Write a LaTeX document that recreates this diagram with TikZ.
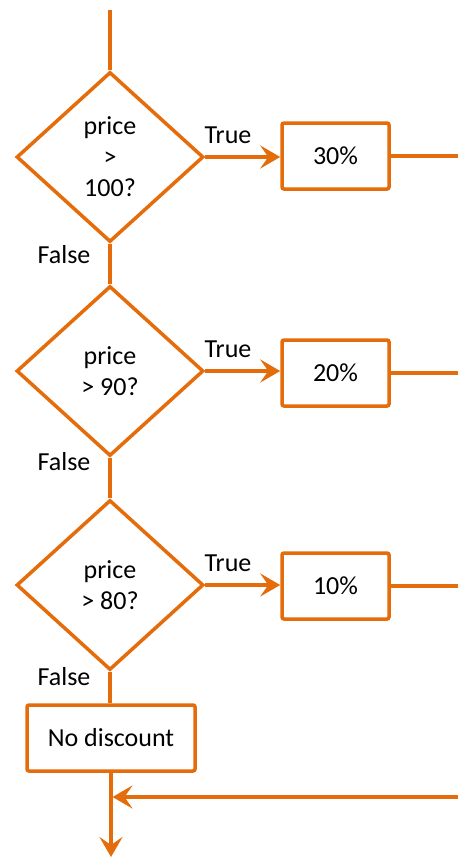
\documentclass[tikz,border=0pt]{standalone}
\usepackage{fontspec}
\setmainfont{Carlito}
\usetikzlibrary{shapes.geometric,arrows.meta}
\definecolor{flow}{RGB}{228,108,10}
\begin{document}
\begin{tikzpicture}[x=1pt,y=-1pt,
  every node/.style={font=\fontsize{26}{31}\selectfont},
  wire/.style={draw=flow,line width=3.5pt},
  arr/.style={wire,-{Stealth[length=20pt,width=23pt,inset=8pt]}},
  decision/.style={diamond,draw=flow,line width=3.5pt,fill=white,
    minimum width=187pt,minimum height=170pt,inner sep=0pt,align=center},
  result/.style={rectangle,draw=flow,line width=3.5pt,fill=white,
    rounded corners=2pt,minimum width=107pt,minimum height=66pt,inner sep=0pt},
  lbl/.style={inner sep=0pt}]
\useasboundingbox (0,0) rectangle (458,857);

% decisions
\node[decision] (d1) at (110,157) {price\\>\\100?};
\node[decision] (d2) at (110,371) {price\\> 90?};
\node[decision] (d3) at (110,585) {price\\> 80?};

% outcomes
\node[result] (r1) at (335.5,156) {30\%};
\node[result] (r2) at (335.5,373) {20\%};
\node[result] (r3) at (335.5,586) {10\%};
\node[result,minimum width=168pt] (nd) at (111,738) {No discount};

% free ends
\coordinate (top) at (110,10);
\coordinate (e1) at (458,156);
\coordinate (e2) at (458,373);
\coordinate (e3) at (458,586);
\coordinate (back) at (458,797);
\coordinate (join) at (111,797);
\coordinate (exit) at (111,857);

% connectors
\draw[wire] (top) -- (d1.north);
\draw[arr] (d1.east) -- (d1.east -| r1.west);
\draw[arr] (d2.east) -- (d2.east -| r2.west);
\draw[arr] (d3.east) -- (d3.east -| r3.west);
\draw[wire] (d1.south) -- (d2.north);
\draw[wire] (d2.south) -- (d3.north);
\draw[wire] (d3.south) -- (d3.south |- nd.north);
\draw[wire] (r1.east) -- (e1);
\draw[wire] (r2.east) -- (e2);
\draw[wire] (r3.east) -- (e3);
\draw[arr] (nd.south) -- (exit);
\draw[arr,shorten >=1.5pt] (back) -- (join);

% branch labels
\node[lbl] (t1) at (228,135) {True};
\node[lbl] (t2) at (228,349) {True};
\node[lbl] (t3) at (228,563) {True};
\node[lbl] (f1) at (64,255) {False};
\node[lbl] (f2) at (64,462) {False};
\node[lbl] (f3) at (64,677) {False};
\end{tikzpicture}
\end{document}
